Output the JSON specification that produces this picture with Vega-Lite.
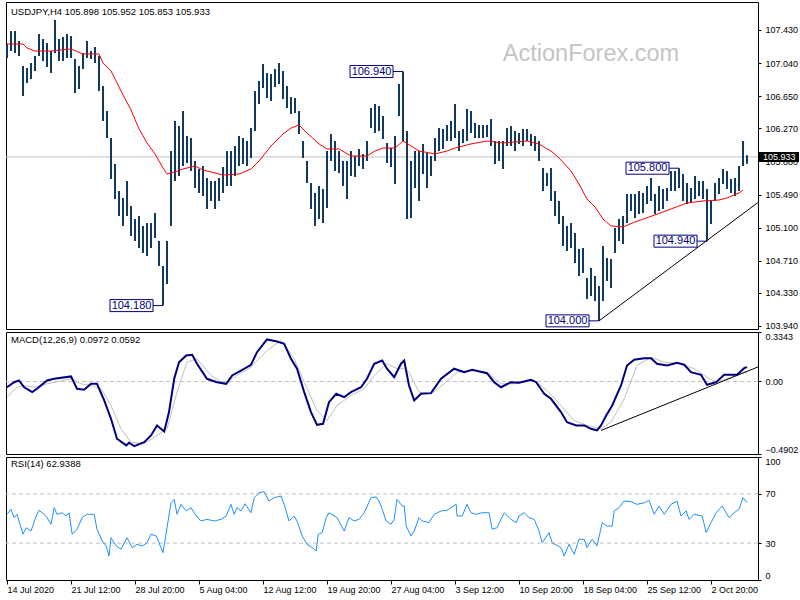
{
"$schema":"https://vega.github.io/schema/vega-lite/v6.json",
"background":"#ffffff",
"padding":{"left":2,"top":1,"right":0,"bottom":0},
"bounds":"flush",
"spacing":3,
"resolve":{"scale":{"x":"independent","y":"independent"}},
"config":{"font":"Liberation Sans","view":{"stroke":"#000000","strokeWidth":1},"axis":{"grid":false,"domain":false,"labelFont":"Liberation Sans","labelFontSize":9,"labelColor":"#000000","tickColor":"#000000","tickSize":3,"labelPadding":4}},
"datasets":{
"bars":[
{"i":0,"h":107.265,"l":107.1},{"i":1,"h":107.418,"l":107.182},{"i":2,"h":107.418,"l":107.159},{"i":3,"h":107.3,"l":107.123},{"i":4,"h":107.006,"l":106.652},{"i":5,"h":106.982,"l":106.805},{"i":6,"h":107.041,"l":106.852},{"i":7,"h":107.123,"l":106.947},{"i":8,"h":107.383,"l":107.123},{"i":9,"h":107.324,"l":107.064},
{"i":10,"h":107.277,"l":106.994},{"i":11,"h":107.182,"l":106.923},{"i":12,"h":107.548,"l":107.159},{"i":13,"h":107.324,"l":107.064},{"i":14,"h":107.348,"l":107.064},{"i":15,"h":107.383,"l":107.1},{"i":16,"h":107.359,"l":107.1},{"i":17,"h":107.088,"l":106.687},{"i":18,"h":107.006,"l":106.734},{"i":19,"h":107.159,"l":106.97},
{"i":20,"h":107.3,"l":107.1},{"i":21,"h":107.182,"l":107.088},{"i":22,"h":107.23,"l":107.041},{"i":23,"h":107.123,"l":106.711},{"i":24,"h":106.77,"l":106.357},{"i":25,"h":106.475,"l":106.157},{"i":26,"h":106.157,"l":105.673},{"i":27,"h":105.85,"l":105.437},{"i":28,"h":105.532,"l":105.237},{"i":29,"h":105.449,"l":105.119},
{"i":30,"h":105.649,"l":105.237},{"i":31,"h":105.355,"l":105.001},{"i":32,"h":105.201,"l":104.942},{"i":33,"h":105.237,"l":104.859},{"i":34,"h":105.119,"l":104.8},{"i":35,"h":105.154,"l":104.765},{"i":36,"h":105.154,"l":104.859},{"i":37,"h":105.272,"l":104.977},{"i":38,"h":104.942,"l":104.647},{"i":39,"h":104.647,"l":104.18},
{"i":40,"h":104.942,"l":104.435},{"i":41,"h":106.003,"l":105.119},{"i":42,"h":106.357,"l":105.649},{"i":43,"h":106.298,"l":105.708},{"i":44,"h":106.475,"l":105.826},{"i":45,"h":106.18,"l":105.862},{"i":46,"h":106.157,"l":105.767},{"i":47,"h":105.885,"l":105.567},{"i":48,"h":105.791,"l":105.508},{"i":49,"h":105.826,"l":105.472},
{"i":50,"h":105.685,"l":105.319},{"i":51,"h":105.649,"l":105.414},{"i":52,"h":105.649,"l":105.319},{"i":53,"h":105.685,"l":105.414},{"i":54,"h":105.815,"l":105.508},{"i":55,"h":106.003,"l":105.59},{"i":56,"h":106.003,"l":105.59},{"i":57,"h":106.062,"l":105.708},{"i":58,"h":106.18,"l":105.826},{"i":59,"h":106.157,"l":105.85},
{"i":60,"h":106.121,"l":105.826},{"i":61,"h":106.274,"l":105.921},{"i":62,"h":106.711,"l":106.239},{"i":63,"h":106.829,"l":106.557},{"i":64,"h":107.029,"l":106.746},{"i":65,"h":106.923,"l":106.628},{"i":66,"h":106.911,"l":106.593},{"i":67,"h":106.97,"l":106.758},{"i":68,"h":107.041,"l":106.793},{"i":69,"h":106.947,"l":106.616},
{"i":70,"h":106.77,"l":106.51},{"i":71,"h":106.64,"l":106.44},{"i":72,"h":106.628,"l":106.451},{"i":73,"h":106.475,"l":106.204},{"i":74,"h":106.121,"l":105.921},{"i":75,"h":105.885,"l":105.626},{"i":76,"h":105.626,"l":105.319},{"i":77,"h":105.508,"l":105.119},{"i":78,"h":105.59,"l":105.201},{"i":79,"h":105.555,"l":105.154},
{"i":80,"h":106.003,"l":105.331},{"i":81,"h":106.204,"l":105.885},{"i":82,"h":106.121,"l":105.767},{"i":83,"h":106.003,"l":105.744},{"i":84,"h":105.885,"l":105.59},{"i":85,"h":105.885,"l":105.437},{"i":86,"h":106.003,"l":105.708},{"i":87,"h":105.944,"l":105.697},{"i":88,"h":106.027,"l":105.826},{"i":89,"h":105.968,"l":105.791},
{"i":90,"h":106.121,"l":105.885},{"i":91,"h":106.51,"l":106.274},{"i":92,"h":106.557,"l":106.215},{"i":93,"h":106.534,"l":106.239},{"i":94,"h":106.416,"l":106.145},{"i":95,"h":106.098,"l":105.862},{"i":96,"h":106.038,"l":105.815},{"i":97,"h":106.18,"l":105.614},{"i":98,"h":106.793,"l":106.416},{"i":99,"h":106.94,"l":106.121},
{"i":100,"h":106.239,"l":105.201},{"i":101,"h":105.885,"l":105.213},{"i":102,"h":106.003,"l":105.567},{"i":103,"h":106.003,"l":105.414},{"i":104,"h":106.086,"l":105.732},{"i":105,"h":105.98,"l":105.567},{"i":106,"h":105.944,"l":105.708},{"i":107,"h":106.157,"l":105.885},{"i":108,"h":106.274,"l":106.003},{"i":109,"h":106.263,"l":106.027},
{"i":110,"h":106.31,"l":106.121},{"i":111,"h":106.357,"l":106.121},{"i":112,"h":106.557,"l":106.157},{"i":113,"h":106.239,"l":106.003},{"i":114,"h":106.263,"l":106.098},{"i":115,"h":106.498,"l":106.121},{"i":116,"h":106.475,"l":106.215},{"i":117,"h":106.333,"l":106.157},{"i":118,"h":106.31,"l":106.157},{"i":119,"h":106.31,"l":106.157},
{"i":120,"h":106.31,"l":106.168},{"i":121,"h":106.381,"l":106.062},{"i":122,"h":106.121,"l":105.85},{"i":123,"h":106.121,"l":105.885},{"i":124,"h":106.121,"l":105.791},{"i":125,"h":106.274,"l":106.062},{"i":126,"h":106.298,"l":106.062},{"i":127,"h":106.239,"l":106.003},{"i":128,"h":106.215,"l":106.086},{"i":129,"h":106.263,"l":106.062},
{"i":130,"h":106.263,"l":106.121},{"i":131,"h":106.204,"l":106.062},{"i":132,"h":106.18,"l":106.003},{"i":133,"h":106.121,"l":105.885},{"i":134,"h":105.803,"l":105.532},{"i":135,"h":105.744,"l":105.59},{"i":136,"h":105.803,"l":105.414},{"i":137,"h":105.532,"l":105.237},{"i":138,"h":105.414,"l":105.142},{"i":139,"h":105.237,"l":104.883},
{"i":140,"h":105.119,"l":104.824},{"i":141,"h":105.154,"l":104.859},{"i":142,"h":105.036,"l":104.682},{"i":143,"h":104.848,"l":104.529},{"i":144,"h":104.859,"l":104.565},{"i":145,"h":104.506,"l":104.258},{"i":146,"h":104.623,"l":104.293},{"i":147,"h":104.529,"l":104.234},{"i":148,"h":104.411,"l":104.0},{"i":149,"h":104.883,"l":104.234},
{"i":150,"h":104.741,"l":104.47},{"i":151,"h":104.73,"l":104.388},{"i":152,"h":105.095,"l":104.8},{"i":153,"h":105.201,"l":104.942},{"i":154,"h":105.237,"l":104.907},{"i":155,"h":105.496,"l":105.154},{"i":156,"h":105.496,"l":105.296},{"i":157,"h":105.496,"l":105.213},{"i":158,"h":105.532,"l":105.26},{"i":159,"h":105.508,"l":105.272},
{"i":160,"h":105.59,"l":105.378},{"i":161,"h":105.685,"l":105.414},{"i":162,"h":105.496,"l":105.26},{"i":163,"h":105.59,"l":105.296},{"i":164,"h":105.555,"l":105.319},{"i":165,"h":105.567,"l":105.414},{"i":166,"h":105.767,"l":105.532},{"i":167,"h":105.767,"l":105.532},{"i":168,"h":105.8,"l":105.567},{"i":169,"h":105.732,"l":105.414},
{"i":170,"h":105.626,"l":105.378},{"i":171,"h":105.567,"l":105.39},{"i":172,"h":105.708,"l":105.437},{"i":173,"h":105.649,"l":105.472},{"i":174,"h":105.649,"l":105.437},{"i":175,"h":105.555,"l":104.94},{"i":176,"h":105.414,"l":105.142},{"i":177,"h":105.626,"l":105.414},{"i":178,"h":105.685,"l":105.496},{"i":179,"h":105.791,"l":105.614},
{"i":180,"h":105.767,"l":105.555},{"i":181,"h":105.673,"l":105.508},{"i":182,"h":105.685,"l":105.472},{"i":183,"h":105.826,"l":105.532},{"i":184,"h":106.121,"l":105.826},{"i":185,"h":105.952,"l":105.853}
],
"ma":[
{"i":0,"v":107.265},{"i":4,"v":107.265},{"i":5,"v":107.218},{"i":7,"v":107.182},{"i":11,"v":107.182},{"i":16,"v":107.206},{"i":19,"v":107.147},{"i":23,"v":107.147},{"i":24,"v":107.041},{"i":26,"v":106.947},{"i":29,"v":106.664},{"i":31,"v":106.487},{"i":33,"v":106.263},{"i":35,"v":106.098},{"i":37,"v":105.968},{"i":39,"v":105.803},{"i":40,"v":105.732},{"i":42,"v":105.756},{"i":44,"v":105.791},{"i":47,"v":105.826},{"i":49,"v":105.779},{"i":52,"v":105.744},{"i":54,"v":105.72},{"i":58,"v":105.732},{"i":61,"v":105.791},{"i":63,"v":105.885},{"i":66,"v":106.062},{"i":69,"v":106.204},{"i":71,"v":106.274},{"i":73,"v":106.31},{"i":75,"v":106.215},{"i":78,"v":106.086},{"i":80,"v":106.027},{"i":83,"v":106.027},{"i":86,"v":105.944},{"i":90,"v":105.944},{"i":92,"v":106.003},{"i":94,"v":106.038},{"i":97,"v":106.038},{"i":99,"v":106.121},{"i":103,"v":106.003},{"i":107,"v":105.968},{"i":110,"v":106.003},{"i":112,"v":106.038},{"i":116,"v":106.086},{"i":120,"v":106.121},{"i":124,"v":106.098},{"i":127,"v":106.109},{"i":130,"v":106.121},{"i":133,"v":106.086},{"i":135,"v":106.027},{"i":136,"v":106.003},{"i":138,"v":105.921},{"i":141,"v":105.767},{"i":143,"v":105.614},{"i":145,"v":105.437},{"i":147,"v":105.343},{"i":149,"v":105.201},{"i":151,"v":105.119},{"i":154,"v":105.107},{"i":157,"v":105.166},{"i":162,"v":105.249},{"i":166,"v":105.319},{"i":170,"v":105.39},{"i":174,"v":105.414},{"i":178,"v":105.425},{"i":180,"v":105.449},{"i":183,"v":105.508},{"i":184,"v":105.543}
],
"macd":[
{"i":0,"v":-0.039},{"i":1.8,"v":-0.005},{"i":3,"v":0.007},{"i":4.3,"v":-0.039},{"i":6.3,"v":-0.072},{"i":7.5,"v":-0.049},{"i":10,"v":0.007},{"i":11.8,"v":0.018},{"i":16,"v":0.034},{"i":17.5,"v":-0.049},{"i":19.3,"v":-0.056},{"i":21,"v":-0.016},{"i":22.5,"v":-0.016},{"i":24.3,"v":-0.128},{"i":26,"v":-0.252},{"i":27.5,"v":-0.387},{"i":29.8,"v":-0.432},{"i":30.5,"v":-0.414},{"i":31.8,"v":-0.437},{"i":34.3,"v":-0.41},{"i":36,"v":-0.365},{"i":37.5,"v":-0.297},{"i":39.3,"v":-0.338},{"i":40.5,"v":-0.207},{"i":41.8,"v":0.018},{"i":43,"v":0.13},{"i":44.8,"v":0.176},{"i":46.3,"v":0.18},{"i":47.5,"v":0.12},{"i":50,"v":0.018},{"i":52.5,"v":-0.005},{"i":54.8,"v":-0.016},{"i":56.3,"v":0.041},{"i":58.5,"v":0.074},{"i":61,"v":0.113},{"i":62.5,"v":0.198},{"i":65,"v":0.284},{"i":67.5,"v":0.27},{"i":69.3,"v":0.255},{"i":71,"v":0.153},{"i":72.5,"v":0.086},{"i":74.3,"v":-0.072},{"i":76,"v":-0.207},{"i":77.5,"v":-0.293},{"i":79,"v":-0.286},{"i":80.5,"v":-0.14},{"i":82.3,"v":-0.083},{"i":84.3,"v":-0.106},{"i":86,"v":-0.072},{"i":88.5,"v":-0.039},{"i":90,"v":0.018},{"i":91.8,"v":0.12},{"i":93.8,"v":0.142},{"i":95,"v":0.086},{"i":96.8,"v":0.029},{"i":98.5,"v":0.12},{"i":99.3,"v":0.142},{"i":100.5,"v":-0.027},{"i":101.8,"v":-0.128},{"i":103.5,"v":-0.083},{"i":106,"v":-0.079},{"i":108.5,"v":0.018},{"i":111.8,"v":0.086},{"i":114.3,"v":0.063},{"i":116.3,"v":0.079},{"i":120,"v":0.056},{"i":121.8,"v":-0.005},{"i":123.5,"v":-0.039},{"i":126,"v":-0.005},{"i":128,"v":-0.009},{"i":131,"v":0.011},{"i":132.3,"v":-0.005},{"i":134.3,"v":-0.083},{"i":136,"v":-0.117},{"i":138.5,"v":-0.207},{"i":140,"v":-0.275},{"i":142.3,"v":-0.297},{"i":144.3,"v":-0.297},{"i":146,"v":-0.32},{"i":147.5,"v":-0.331},{"i":148.5,"v":-0.297},{"i":149.8,"v":-0.23},{"i":151.3,"v":-0.162},{"i":153.5,"v":-0.027},{"i":155,"v":0.108},{"i":156.8,"v":0.147},{"i":159.3,"v":0.157},{"i":161,"v":0.157},{"i":162.5,"v":0.12},{"i":165,"v":0.108},{"i":167.5,"v":0.126},{"i":169.3,"v":0.113},{"i":171,"v":0.063},{"i":173.5,"v":0.045},{"i":175,"v":-0.022},{"i":177.3,"v":-0.005},{"i":179.3,"v":0.045},{"i":182.5,"v":0.045},{"i":184.3,"v":0.09},{"i":185,"v":0.097}
],
"signal":[
{"i":0,"v":-0.106},{"i":2.5,"v":-0.039},{"i":4.3,"v":-0.027},{"i":6.8,"v":-0.039},{"i":10,"v":-0.016},{"i":16,"v":0.018},{"i":18.5,"v":-0.016},{"i":21,"v":-0.027},{"i":23.5,"v":-0.049},{"i":26,"v":-0.162},{"i":28.5,"v":-0.32},{"i":31,"v":-0.41},{"i":34.3,"v":-0.421},{"i":37.5,"v":-0.365},{"i":40,"v":-0.32},{"i":42.5,"v":-0.072},{"i":45,"v":0.13},{"i":47.5,"v":0.153},{"i":51,"v":0.041},{"i":54.3,"v":-0.016},{"i":57.5,"v":0.041},{"i":61,"v":0.097},{"i":65,"v":0.209},{"i":68.5,"v":0.277},{"i":71.8,"v":0.153},{"i":74.3,"v":-0.005},{"i":77.5,"v":-0.196},{"i":80,"v":-0.264},{"i":82.5,"v":-0.162},{"i":86,"v":-0.095},{"i":89.3,"v":-0.049},{"i":91.8,"v":0.041},{"i":95,"v":0.12},{"i":97.5,"v":0.086},{"i":99.3,"v":0.086},{"i":100.5,"v":0.063},{"i":103,"v":-0.072},{"i":106,"v":-0.083},{"i":109.3,"v":-0.016},{"i":112.5,"v":0.063},{"i":116,"v":0.074},{"i":120,"v":0.063},{"i":123.5,"v":-0.016},{"i":126.8,"v":-0.016},{"i":131.8,"v":0.007},{"i":135,"v":-0.061},{"i":138.5,"v":-0.162},{"i":141.8,"v":-0.264},{"i":145,"v":-0.297},{"i":148.5,"v":-0.32},{"i":151,"v":-0.275},{"i":154.3,"v":-0.117},{"i":157.5,"v":0.108},{"i":161,"v":0.164},{"i":164.3,"v":0.13},{"i":168.5,"v":0.12},{"i":171.8,"v":0.086},{"i":175,"v":0.029},{"i":177.5,"v":-0.005},{"i":181,"v":0.029},{"i":184.3,"v":0.063},{"i":185,"v":0.059}
],
"rsi":[
{"i":0,"r":53.4},{"i":1,"r":57.5},{"i":1.8,"r":50.7},{"i":2.5,"r":53.4},{"i":3.5,"r":42.5},{"i":4,"r":37.2},{"i":4.8,"r":42.5},{"i":6,"r":39.8},{"i":7.3,"r":52.0},{"i":8,"r":56.7},{"i":9.3,"r":53.4},{"i":10,"r":50.7},{"i":11,"r":45.3},{"i":11.8,"r":58.8},{"i":12.5,"r":53.4},{"i":13.8,"r":54.7},{"i":14.8,"r":52.0},{"i":15.5,"r":54.7},{"i":16.3,"r":37.2},{"i":17.5,"r":41.2},{"i":18.8,"r":50.7},{"i":20,"r":53.4},{"i":21.8,"r":53.4},{"i":22.5,"r":41.2},{"i":23.8,"r":31.7},{"i":24.8,"r":27.6},{"i":25.5,"r":19.5},{"i":26,"r":34.4},{"i":27.3,"r":27.6},{"i":28.5,"r":25.0},{"i":30,"r":34.4},{"i":31.3,"r":26.3},{"i":32.5,"r":29.0},{"i":33.8,"r":27.6},{"i":35,"r":30.3},{"i":36,"r":37.2},{"i":37.3,"r":35.8},{"i":38.5,"r":26.3},{"i":39,"r":22.2},{"i":40,"r":42.5},{"i":41,"r":62.8},{"i":41.8,"r":65.6},{"i":42.5,"r":53.4},{"i":43.5,"r":61.5},{"i":44.8,"r":56.1},{"i":46,"r":58.8},{"i":47.3,"r":52.0},{"i":48.5,"r":48.0},{"i":50,"r":49.3},{"i":51.8,"r":48.0},{"i":53.5,"r":49.3},{"i":54.8,"r":52.0},{"i":56,"r":61.5},{"i":56.8,"r":53.4},{"i":57.5,"r":58.8},{"i":58.5,"r":56.1},{"i":59.5,"r":62.0},{"i":61,"r":54.7},{"i":61.8,"r":66.9},{"i":63,"r":71.0},{"i":64.3,"r":71.8},{"i":65.5,"r":64.2},{"i":66.8,"r":66.9},{"i":68.5,"r":68.3},{"i":69.3,"r":61.5},{"i":70.5,"r":48.0},{"i":71.8,"r":52.0},{"i":72.5,"r":48.0},{"i":73.8,"r":35.8},{"i":75,"r":29.0},{"i":76.3,"r":26.3},{"i":77.3,"r":23.6},{"i":77.8,"r":37.2},{"i":78.8,"r":38.5},{"i":79.8,"r":50.7},{"i":80.5,"r":54.7},{"i":82.5,"r":50.7},{"i":84.3,"r":39.8},{"i":85.5,"r":50.7},{"i":86.8,"r":48.0},{"i":88,"r":49.3},{"i":89.3,"r":54.7},{"i":91,"r":66.9},{"i":92.3,"r":67.5},{"i":93,"r":64.2},{"i":93.8,"r":57.5},{"i":94.8,"r":48.0},{"i":96,"r":45.3},{"i":96.8,"r":49.3},{"i":97.5,"r":65.6},{"i":98.8,"r":60.2},{"i":99.3,"r":60.2},{"i":99.8,"r":43.9},{"i":101,"r":35.8},{"i":101.8,"r":39.8},{"i":103,"r":50.7},{"i":103.8,"r":48.0},{"i":105.5,"r":46.6},{"i":106.8,"r":53.4},{"i":108.5,"r":56.1},{"i":110,"r":56.7},{"i":112.3,"r":61.5},{"i":112.5,"r":52.0},{"i":113.8,"r":52.0},{"i":115,"r":61.5},{"i":116,"r":54.7},{"i":117.3,"r":53.4},{"i":118.8,"r":54.7},{"i":120.5,"r":54.7},{"i":121.3,"r":41.2},{"i":122.5,"r":42.5},{"i":124.3,"r":54.7},{"i":126,"r":49.3},{"i":127.3,"r":46.6},{"i":128,"r":52.0},{"i":129.3,"r":54.7},{"i":130.5,"r":50.7},{"i":131.8,"r":49.3},{"i":133,"r":39.8},{"i":133.8,"r":30.3},{"i":135.5,"r":38.5},{"i":136.3,"r":30.3},{"i":138.5,"r":26.3},{"i":139.3,"r":19.5},{"i":140.5,"r":29.0},{"i":141.8,"r":20.9},{"i":143,"r":33.1},{"i":144.3,"r":33.1},{"i":145,"r":26.3},{"i":146.3,"r":33.1},{"i":147.5,"r":27.6},{"i":148.8,"r":46.6},{"i":150,"r":43.9},{"i":151.3,"r":43.9},{"i":151.8,"r":56.1},{"i":153,"r":58.8},{"i":154.3,"r":64.2},{"i":156,"r":63.7},{"i":157.5,"r":61.5},{"i":159.3,"r":62.8},{"i":160.5,"r":64.8},{"i":161.8,"r":53.4},{"i":163,"r":60.2},{"i":164.3,"r":53.4},{"i":166,"r":61.5},{"i":167.5,"r":64.2},{"i":168.5,"r":52.0},{"i":169.8,"r":56.1},{"i":170.5,"r":49.3},{"i":171.8,"r":53.4},{"i":173.8,"r":52.0},{"i":174.8,"r":38.5},{"i":176,"r":46.6},{"i":177.3,"r":54.7},{"i":178.8,"r":60.2},{"i":180.5,"r":50.7},{"i":181.8,"r":54.7},{"i":183,"r":57.5},{"i":184,"r":66.9},{"i":185,"r":62.9}
],
"notes":[
{"i":99,"p":106.94,"label":"106.940"},{"i":39,"p":104.18,"label":"104.180"},{"i":148,"p":104.0,"label":"104.000"},{"i":175,"p":104.94,"label":"104.940"},{"i":168,"p":105.8,"label":"105.800"}
]
},
"vconcat":[
{
"width":752,"height":327,
"layer":[
{"data":{"values":[{"p":105.933}]},"mark":{"type":"rule","color":"#c0c0c0","strokeWidth":1},
 "encoding":{"y":{"field":"p","type":"quantitative","scale":{"domain":[103.904,107.76],"nice":false,"zero":false},
   "axis":{"orient":"right","title":null,"values":[107.43,107.04,106.65,106.27,105.88,105.49,105.1,104.71,104.33,103.94],"format":".3f","labelOverlap":false}}}},
{"data":{"name":"bars"},"mark":{"type":"rule","color":"#113a5c","strokeWidth":2},
 "encoding":{"x":{"field":"i","type":"quantitative","scale":{"domain":[-0.25,187.75],"nice":false,"zero":false},"axis":null},
  "y":{"field":"h","type":"quantitative","scale":{"domain":[103.904,107.76],"nice":false,"zero":false},
   "axis":{"orient":"right","title":null,"values":[107.43,107.04,106.65,106.27,105.88,105.49,105.1,104.71,104.33,103.94],"format":".3f","labelOverlap":false}},
  "y2":{"field":"l"}}},
{"data":{"name":"ma"},"mark":{"type":"line","color":"#ff0000","strokeWidth":1},
 "encoding":{"x":{"field":"i","type":"quantitative","scale":{"domain":[-0.25,187.75],"nice":false,"zero":false},"axis":null},
  "y":{"field":"v","type":"quantitative","scale":{"domain":[103.904,107.76],"nice":false,"zero":false},
   "axis":{"orient":"right","title":null,"values":[107.43,107.04,106.65,106.27,105.88,105.49,105.1,104.71,104.33,103.94],"format":".3f","labelOverlap":false}}}},
{"data":{"values":[{"i":148,"p":104.0,"i2":187.75,"p2":105.396}]},"mark":{"type":"rule","color":"#000000","strokeWidth":1},
 "encoding":{"x":{"field":"i","type":"quantitative","scale":{"domain":[-0.25,187.75],"nice":false,"zero":false},"axis":null},
  "y":{"field":"p","type":"quantitative","scale":{"domain":[103.904,107.76],"nice":false,"zero":false},
   "axis":{"orient":"right","title":null,"values":[107.43,107.04,106.65,106.27,105.88,105.49,105.1,104.71,104.33,103.94],"format":".3f","labelOverlap":false}},
  "x2":{"field":"i2"},"y2":{"field":"p2"}}},
{"data":{"name":"notes"},"mark":{"type":"rule","color":"#000080","strokeWidth":1,"xOffset":-10},
 "encoding":{"x":{"field":"i","type":"quantitative","scale":{"domain":[-0.25,187.75],"nice":false,"zero":false},"axis":null},
  "x2":{"field":"i"},
  "y":{"field":"p","type":"quantitative","scale":{"domain":[103.904,107.76],"nice":false,"zero":false},
   "axis":{"orient":"right","title":null,"values":[107.43,107.04,106.65,106.27,105.88,105.49,105.1,104.71,104.33,103.94],"format":".3f","labelOverlap":false}}}},
{"data":{"name":"notes"},"mark":{"type":"rect","fill":"#ffffff","stroke":"#000080","strokeWidth":1,"xOffset":-53,"x2Offset":-10,"yOffset":-6,"y2Offset":6},
 "encoding":{"x":{"field":"i","type":"quantitative","scale":{"domain":[-0.25,187.75],"nice":false,"zero":false},"axis":null},
  "x2":{"field":"i"},
  "y":{"field":"p","type":"quantitative","scale":{"domain":[103.904,107.76],"nice":false,"zero":false},
   "axis":{"orient":"right","title":null,"values":[107.43,107.04,106.65,106.27,105.88,105.49,105.1,104.71,104.33,103.94],"format":".3f","labelOverlap":false}},
  "y2":{"field":"p"}}},
{"data":{"name":"notes"},"mark":{"type":"text","color":"#000080","fontSize":11,"dx":-31.5,"align":"center","baseline":"middle"},
 "encoding":{"x":{"field":"i","type":"quantitative","scale":{"domain":[-0.25,187.75],"nice":false,"zero":false},"axis":null},
  "y":{"field":"p","type":"quantitative","scale":{"domain":[103.904,107.76],"nice":false,"zero":false},
   "axis":{"orient":"right","title":null,"values":[107.43,107.04,106.65,106.27,105.88,105.49,105.1,104.71,104.33,103.94],"format":".3f","labelOverlap":false}},
  "text":{"field":"label"}}},
{"data":{"values":[{"t":"ActionForex.com"}]},"mark":{"type":"text","color":"#c4c4c4","fontSize":23.5,"align":"center","baseline":"middle"},
 "encoding":{"x":{"datum":146,"type":"quantitative","scale":{"domain":[-0.25,187.75],"nice":false,"zero":false},"axis":null},
  "y":{"datum":107.147,"type":"quantitative","scale":{"domain":[103.904,107.76],"nice":false,"zero":false},
   "axis":{"orient":"right","title":null,"values":[107.43,107.04,106.65,106.27,105.88,105.49,105.1,104.71,104.33,103.94],"format":".3f","labelOverlap":false}},
  "text":{"field":"t"}}},
{"data":{"values":[{"t":"USDJPY,H4  105.898 105.952 105.853 105.933"}]},"mark":{"type":"text","color":"#000000","fontSize":9.5,"align":"left","baseline":"middle"},
 "encoding":{"x":{"datum":1,"type":"quantitative","scale":{"domain":[-0.25,187.75],"nice":false,"zero":false},"axis":null},
  "y":{"datum":107.64,"type":"quantitative","scale":{"domain":[103.904,107.76],"nice":false,"zero":false},
   "axis":{"orient":"right","title":null,"values":[107.43,107.04,106.65,106.27,105.88,105.49,105.1,104.71,104.33,103.94],"format":".3f","labelOverlap":false}},
  "text":{"field":"t"}}},
{"data":{"values":[{"p":105.933,"t":"105.933"}]},"mark":{"type":"rect","fill":"#000000","xOffset":1,"x2Offset":41,"yOffset":-5,"y2Offset":5},
 "encoding":{"x":{"datum":187.75,"type":"quantitative","scale":{"domain":[-0.25,187.75],"nice":false,"zero":false},"axis":null},
  "x2":{"datum":187.75},
  "y":{"field":"p","type":"quantitative","scale":{"domain":[103.904,107.76],"nice":false,"zero":false},
   "axis":{"orient":"right","title":null,"values":[107.43,107.04,106.65,106.27,105.88,105.49,105.1,104.71,104.33,103.94],"format":".3f","labelOverlap":false}},
  "y2":{"field":"p"}}},
{"data":{"values":[{"p":105.933,"t":"105.933"}]},"mark":{"type":"text","color":"#ffffff","fontSize":9,"dx":5,"align":"left","baseline":"middle"},
 "encoding":{"x":{"datum":187.75,"type":"quantitative","scale":{"domain":[-0.25,187.75],"nice":false,"zero":false},"axis":null},
  "y":{"field":"p","type":"quantitative","scale":{"domain":[103.904,107.76],"nice":false,"zero":false},
   "axis":{"orient":"right","title":null,"values":[107.43,107.04,106.65,106.27,105.88,105.49,105.1,104.71,104.33,103.94],"format":".3f","labelOverlap":false}},
  "text":{"field":"t"}}}
]
},
{
"width":752,"height":122,
"layer":[
{"data":{"values":[{"v":0}]},"mark":{"type":"rule","color":"#c0c0c0","strokeDash":[4,3]},
 "encoding":{"y":{"field":"v","type":"quantitative","scale":{"domain":[-0.4902,0.3343],"nice":false,"zero":false},
  "axis":{"orient":"right","title":null,"values":[-0.4902,0,0.3343],"labelExpr":"datum.value == 0 ? '0.00' : format(datum.value, '.4f')","labelFlush":true,"labelOverlap":false}}}},
{"data":{"name":"signal"},"mark":{"type":"line","color":"#c0c0c0","strokeWidth":1},
 "encoding":{"x":{"field":"i","type":"quantitative","scale":{"domain":[-0.25,187.75],"nice":false,"zero":false},"axis":null},
  "y":{"field":"v","type":"quantitative","scale":{"domain":[-0.4902,0.3343],"nice":false,"zero":false},
  "axis":{"orient":"right","title":null,"values":[-0.4902,0,0.3343],"labelExpr":"datum.value == 0 ? '0.00' : format(datum.value, '.4f')","labelFlush":true,"labelOverlap":false}}}},
{"data":{"name":"macd"},"mark":{"type":"line","color":"#000080","strokeWidth":2},
 "encoding":{"x":{"field":"i","type":"quantitative","scale":{"domain":[-0.25,187.75],"nice":false,"zero":false},"axis":null},
  "y":{"field":"v","type":"quantitative","scale":{"domain":[-0.4902,0.3343],"nice":false,"zero":false},
  "axis":{"orient":"right","title":null,"values":[-0.4902,0,0.3343],"labelExpr":"datum.value == 0 ? '0.00' : format(datum.value, '.4f')","labelFlush":true,"labelOverlap":false}}}},
{"data":{"values":[{"i":148.5,"v":-0.331,"i2":187.75,"v2":0.098}]},"mark":{"type":"rule","color":"#000000","strokeWidth":1},
 "encoding":{"x":{"field":"i","type":"quantitative","scale":{"domain":[-0.25,187.75],"nice":false,"zero":false},"axis":null},
  "y":{"field":"v","type":"quantitative","scale":{"domain":[-0.4902,0.3343],"nice":false,"zero":false},
  "axis":{"orient":"right","title":null,"values":[-0.4902,0,0.3343],"labelExpr":"datum.value == 0 ? '0.00' : format(datum.value, '.4f')","labelFlush":true,"labelOverlap":false}},
  "x2":{"field":"i2"},"y2":{"field":"v2"}}},
{"data":{"values":[{"t":"MACD(12,26,9) 0.0972 0.0592"}]},"mark":{"type":"text","color":"#000000","fontSize":9.5,"align":"left","baseline":"middle"},
 "encoding":{"x":{"datum":1,"type":"quantitative","scale":{"domain":[-0.25,187.75],"nice":false,"zero":false},"axis":null},
  "y":{"datum":0.277,"type":"quantitative","scale":{"domain":[-0.4902,0.3343],"nice":false,"zero":false},
  "axis":{"orient":"right","title":null,"values":[-0.4902,0,0.3343],"labelExpr":"datum.value == 0 ? '0.00' : format(datum.value, '.4f')","labelFlush":true,"labelOverlap":false}},
  "text":{"field":"t"}}}
]
},
{
"width":752,"height":123,
"layer":[
{"data":{"values":[{"r":30},{"r":70}]},"mark":{"type":"rule","color":"#c0c0c0","strokeDash":[4,3]},
 "encoding":{"y":{"field":"r","type":"quantitative","scale":{"domain":[0,100],"nice":false,"zero":false},
  "axis":{"orient":"right","title":null,"values":[0,30,70,100],"labelFlush":true,"labelOverlap":false}}}},
{"data":{"name":"rsi"},"mark":{"type":"line","color":"#1e90ff","strokeWidth":1},
 "encoding":{"x":{"field":"i","type":"quantitative","scale":{"domain":[-0.25,187.75],"nice":false,"zero":false},
   "axis":{"orient":"bottom","title":null,"values":[0,16,32,48,64,80,96,112,128,144,160,176],"labelExpr":"['14 Jul 2020','21 Jul 12:00','28 Jul 20:00','5 Aug 04:00','12 Aug 12:00','19 Aug 20:00','27 Aug 04:00','3 Sep 12:00','10 Sep 20:00','18 Sep 04:00','25 Sep 12:00','2 Oct 20:00'][round(datum.value/16)]","labelAlign":"left","labelBaseline":"top","tickSize":4,"labelPadding":1,"labelFlush":false,"labelOverlap":false,"labelBound":false}},
  "y":{"field":"r","type":"quantitative","scale":{"domain":[0,100],"nice":false,"zero":false},
  "axis":{"orient":"right","title":null,"values":[0,30,70,100],"labelFlush":true,"labelOverlap":false}}}},
{"data":{"values":[{"t":"RSI(14) 62.9388"}]},"mark":{"type":"text","color":"#000000","fontSize":9.5,"align":"left","baseline":"middle"},
 "encoding":{"x":{"datum":1,"type":"quantitative","scale":{"domain":[-0.25,187.75],"nice":false,"zero":false},
   "axis":{"orient":"bottom","title":null,"values":[0,16,32,48,64,80,96,112,128,144,160,176],"labelExpr":"['14 Jul 2020','21 Jul 12:00','28 Jul 20:00','5 Aug 04:00','12 Aug 12:00','19 Aug 20:00','27 Aug 04:00','3 Sep 12:00','10 Sep 20:00','18 Sep 04:00','25 Sep 12:00','2 Oct 20:00'][round(datum.value/16)]","labelAlign":"left","labelBaseline":"top","tickSize":4,"labelPadding":1,"labelFlush":false,"labelOverlap":false,"labelBound":false}},
  "y":{"datum":94.3,"type":"quantitative","scale":{"domain":[0,100],"nice":false,"zero":false},
  "axis":{"orient":"right","title":null,"values":[0,30,70,100],"labelFlush":true,"labelOverlap":false}},
  "text":{"field":"t"}}}
]
}
]
}
